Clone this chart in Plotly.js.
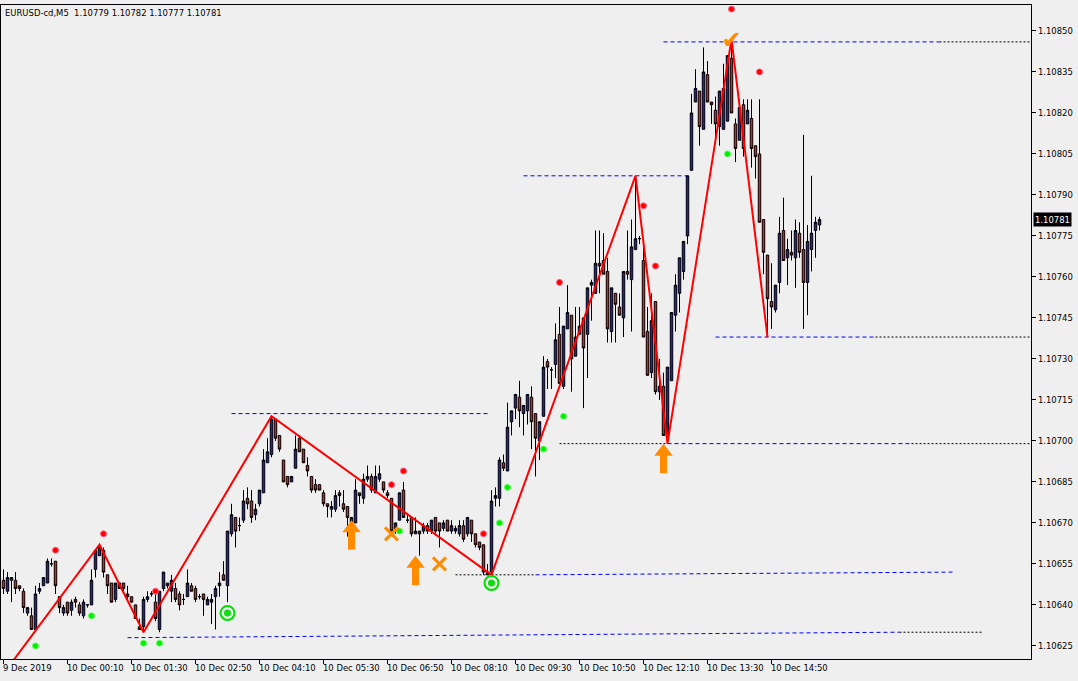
<!DOCTYPE html>
<html><head><meta charset="utf-8">
<script src="https://cdn.plot.ly/plotly-3.0.1.min.js"></script>
<style>html,body{margin:0;padding:0;background:#efefef;}#chart{width:1078px;height:681px;}</style>
</head><body><div id="chart"></div>
<script>
// ---- data (EURUSD-cd M5) ----
const symbolTitle = "EURUSD-cd,M5\u00a0\u00a01.10779 1.10782 1.10777 1.10781";
const lastPrice = 1.10781;
const xLabelBars = [0,16,32,48,64,80,96,112,128,144,160,176,192];
const xLabels = ["9 Dec 2019","10 Dec 00:10","10 Dec 01:30","10 Dec 02:50","10 Dec 04:10","10 Dec 05:30","10 Dec 06:50","10 Dec 08:10","10 Dec 09:30","10 Dec 10:50","10 Dec 12:10","10 Dec 13:30","10 Dec 14:50"];
const yTickVals = [1.10625,1.10640,1.10655,1.10670,1.10685,1.10700,1.10715,1.10730,1.10745,1.10760,1.10775,1.10790,1.10805,1.10820,1.10835,1.10850];

const barOpen = [1.10649,1.10645,1.10649,1.10649,1.10647,1.10645,1.10637,1.10636,1.10631,1.10645,
1.10647,1.10648,1.10655,1.10656,1.10643,1.10637,1.10641,1.10638,1.10642,1.10640,
1.10636,1.10640,1.10640,1.10653,1.10658,1.10660,1.10651,1.10648,1.10642,1.10648,
1.10648,1.10644,1.10643,1.10640,1.10632,1.10632,1.10642,1.10644,1.10641,1.10631,
1.10646,1.10648,1.10645,1.10646,1.10644,1.10642,1.10643,1.10647,1.10646,1.10643,
1.10644,1.10640,1.10641,1.10643,1.10647,1.10651,1.10647,1.10666,1.10672,1.10669,
1.10671,1.10679,1.10678,1.10673,1.10677,1.10681,1.10692,1.10695,1.10708,1.10702,
1.10693,1.10687,1.10685,1.10690,1.10701,1.10697,1.10691,1.10687,1.10684,1.10684,
1.10681,1.10677,1.10675,1.10675,1.10681,1.10677,1.10676,1.10670,1.10670,1.10681,
1.10679,1.10686,1.10687,1.10681,1.10686,1.10685,1.10681,1.10679,1.10667,1.10671,
1.10682,1.10671,1.10672,1.10666,1.10667,1.10667,1.10669,1.10667,1.10672,1.10670,
1.10668,1.10671,1.10667,1.10667,1.10666,1.10669,1.10666,1.10671,1.10666,1.10663,
1.10662,1.10652,1.10652,1.10679,1.10679,1.10692,1.10689,1.10707,1.10712,1.10716,
1.10710,1.10711,1.10716,1.10710,1.10700,1.10709,1.10729,1.10726,1.10728,1.10739,
1.10720,1.10741,1.10746,1.10731,1.10739,1.10745,1.10739,1.10757,1.10754,1.10765,
1.10766,1.10762,1.10740,1.10754,1.10749,1.10745,1.10762,1.10759,1.10770,1.10774,
1.10766,1.10740,1.10725,1.10751,1.10718,1.10720,1.10702,1.10722,1.10746,1.10754,
1.10762,1.10775,1.10799,1.10824,1.10828,1.10814,1.10834,1.10824,1.10821,1.10815,
1.10814,1.10817,1.10840,1.10816,1.10810,1.10823,1.10816,1.10818,1.10808,1.10805,
1.10781,1.10768,1.10751,1.10748,1.10758,1.10777,1.10767,1.10769,1.10767,1.10776,
1.10770,1.10758,1.10770,1.10777,1.10779];

const barHigh = [1.10653,1.10652,1.10650,1.10652,1.10647,1.10646,1.10639,1.10639,1.10647,1.10648,
1.10650,1.10657,1.10657,1.10656,1.10643,1.10640,1.10641,1.10642,1.10643,1.10641,
1.10642,1.10640,1.10653,1.10660,1.10662,1.10661,1.10651,1.10648,1.10648,1.10648,
1.10648,1.10647,1.10643,1.10640,1.10635,1.10643,1.10645,1.10645,1.10645,1.10645,
1.10652,1.10648,1.10651,1.10648,1.10645,1.10644,1.10653,1.10648,1.10647,1.10644,
1.10644,1.10643,1.10644,1.10647,1.10652,1.10656,1.10667,1.10677,1.10672,1.10672,
1.10682,1.10683,1.10682,1.10677,1.10682,1.10697,1.10701,1.10709,1.10708,1.10702,
1.10693,1.10687,1.10687,1.10702,1.10702,1.10697,1.10694,1.10687,1.10686,1.10684,
1.10682,1.10677,1.10678,1.10682,1.10682,1.10682,1.10676,1.10672,1.10686,1.10681,
1.10688,1.10691,1.10688,1.10691,1.10691,1.10685,1.10682,1.10679,1.10670,1.10681,
1.10685,1.10673,1.10672,1.10672,1.10667,1.10670,1.10670,1.10671,1.10672,1.10670,
1.10671,1.10671,1.10671,1.10669,1.10671,1.10671,1.10672,1.10671,1.10666,1.10663,
1.10662,1.10655,1.10682,1.10683,1.10694,1.10695,1.10714,1.10711,1.10717,1.10722,
1.10713,1.10717,1.10720,1.10710,1.10707,1.10731,1.10730,1.10727,1.10743,1.10749,
1.10742,1.10757,1.10746,1.10749,1.10749,1.10745,1.10756,1.10759,1.10777,1.10777,
1.10776,1.10767,1.10756,1.10754,1.10754,1.10762,1.10777,1.10781,1.10797,1.10775,
1.10771,1.10749,1.10754,1.10751,1.10730,1.10725,1.10727,1.10747,1.10761,1.10767,
1.10773,1.10797,1.10827,1.10836,1.10828,1.10844,1.10839,1.10824,1.10826,1.10828,
1.10838,1.10841,1.10846,1.10818,1.10825,1.10825,1.10825,1.10825,1.10808,1.10825,
1.10781,1.10768,1.10765,1.10757,1.10782,1.10789,1.10774,1.10777,1.10781,1.10780,
1.10812,1.10779,1.10797,1.10782,1.10782];

const barLow = [1.10644,1.10644,1.10641,1.10644,1.10645,1.10637,1.10636,1.10631,1.10630,1.10644,
1.10647,1.10648,1.10654,1.10644,1.10637,1.10636,1.10636,1.10636,1.10639,1.10636,
1.10635,1.10639,1.10640,1.10650,1.10658,1.10650,1.10644,1.10641,1.10641,1.10646,
1.10644,1.10642,1.10641,1.10635,1.10631,1.10630,1.10641,1.10643,1.10634,1.10630,
1.10645,1.10646,1.10641,1.10641,1.10638,1.10640,1.10643,1.10645,1.10641,1.10642,
1.10636,1.10640,1.10633,1.10631,1.10643,1.10649,1.10641,1.10665,1.10661,1.10667,
1.10670,1.10675,1.10670,1.10671,1.10676,1.10681,1.10692,1.10694,1.10700,1.10696,
1.10685,1.10683,1.10685,1.10690,1.10696,1.10692,1.10687,1.10681,1.10681,1.10682,
1.10676,1.10672,1.10672,1.10674,1.10676,1.10674,1.10665,1.10670,1.10670,1.10677,
1.10677,1.10685,1.10681,1.10681,1.10685,1.10681,1.10679,1.10667,1.10666,1.10671,
1.10672,1.10670,1.10665,1.10666,1.10658,1.10666,1.10666,1.10666,1.10666,1.10661,
1.10667,1.10667,1.10666,1.10666,1.10665,1.10663,1.10665,1.10663,1.10661,1.10660,
1.10651,1.10651,1.10651,1.10676,1.10676,1.10689,1.10689,1.10702,1.10708,1.10705,
1.10702,1.10706,1.10697,1.10687,1.10693,1.10709,1.10719,1.10719,1.10723,1.10721,
1.10719,1.10741,1.10718,1.10731,1.10739,1.10712,1.10723,1.10744,1.10754,1.10754,
1.10761,1.10736,1.10736,1.10736,1.10746,1.10738,1.10759,1.10740,1.10770,1.10772,
1.10738,1.10724,1.10723,1.10717,1.10715,1.10702,1.10699,1.10722,1.10740,1.10747,
1.10759,1.10772,1.10799,1.10824,1.10808,1.10814,1.10824,1.10816,1.10809,1.10808,
1.10814,1.10817,1.10820,1.10802,1.10810,1.10804,1.10816,1.10800,1.10796,1.10780,
1.10761,1.10738,1.10741,1.10747,1.10754,1.10766,1.10757,1.10766,1.10756,1.10767,
1.10741,1.10746,1.10762,1.10767,1.10777];

const barClose = [1.10646,1.10650,1.10650,1.10646,1.10646,1.10639,1.10639,1.10631,1.10644,1.10646,
1.10650,1.10656,1.10655,1.10647,1.10639,1.10639,1.10637,1.10641,1.10641,1.10637,
1.10641,1.10640,1.10649,1.10660,1.10661,1.10652,1.10647,1.10641,1.10648,1.10646,
1.10646,1.10643,1.10641,1.10635,1.10631,1.10642,1.10643,1.10644,1.10635,1.10645,
1.10652,1.10647,1.10649,1.10642,1.10640,1.10642,1.10648,1.10645,1.10642,1.10643,
1.10642,1.10642,1.10642,1.10646,1.10648,1.10649,1.10667,1.10673,1.10667,1.10669,
1.10678,1.10677,1.10672,1.10675,1.10682,1.10693,1.10696,1.10708,1.10701,1.10697,
1.10685,1.10684,1.10687,1.10697,1.10696,1.10692,1.10689,1.10682,1.10682,1.10682,
1.10677,1.10676,1.10676,1.10680,1.10680,1.10675,1.10672,1.10672,1.10682,1.10680,
1.10686,1.10687,1.10682,1.10687,1.10688,1.10682,1.10680,1.10667,1.10670,1.10681,
1.10672,1.10671,1.10666,1.10667,1.10666,1.10669,1.10667,1.10671,1.10667,1.10667,
1.10670,1.10667,1.10669,1.10668,1.10669,1.10664,1.10672,1.10666,1.10662,1.10661,
1.10652,1.10651,1.10678,1.10680,1.10693,1.10690,1.10705,1.10711,1.10717,1.10711,
1.10713,1.10717,1.10707,1.10701,1.10707,1.10727,1.10727,1.10726,1.10737,1.10721,
1.10742,1.10747,1.10730,1.10738,1.10742,1.10734,1.10756,1.10758,1.10765,1.10764,
1.10761,1.10741,1.10756,1.10750,1.10746,1.10762,1.10761,1.10771,1.10774,1.10774,
1.10738,1.10724,1.10744,1.10718,1.10720,1.10702,1.10727,1.10747,1.10757,1.10767,
1.10773,1.10797,1.10820,1.10829,1.10815,1.10835,1.10824,1.10823,1.10816,1.10828,
1.10829,1.10841,1.10820,1.10807,1.10822,1.10807,1.10821,1.10807,1.10804,1.10780,
1.10769,1.10752,1.10749,1.10757,1.10776,1.10766,1.10770,1.10768,1.10777,1.10769,
1.10758,1.10773,1.10776,1.10780,1.10781];

// ZigZag vertices (bar index, price)
const zzBars  = [-5, 24, 35, 67, 122, 158, 166, 182, 191];
const zzPrice = [1.10605, 1.10662, 1.10630, 1.10709, 1.10651, 1.10797, 1.10699, 1.10847, 1.10738];

// support / resistance levels: blue dashed parts and black dotted parts
const lvlBlueX0 = [165, 130, 178, 57, 166, 133, 31];
const lvlBlueX1 = [234, 171, 218, 121, 227, 238, 224];
const lvlBlueP0 = [1.10846, 1.10797, 1.10738, 1.10710, 1.10699, 1.10651, 1.10628];
const lvlBlueP1 = [1.10846, 1.10797, 1.10738, 1.10710, 1.10699, 1.10652, 1.10630];
const lvlDotX0 = [234, 218, 139, 227, 113, 224];
const lvlDotX1 = [257, 257, 166, 257, 133, 245];
const lvlDotP0 = [1.10846, 1.10738, 1.10699, 1.10699, 1.10651, 1.10630];
const lvlDotP1 = [1.10846, 1.10738, 1.10699, 1.10699, 1.10651, 1.10630];

// signal markers
const redDotBars  = [13, 25, 38, 97, 100, 120, 139, 160, 163, 182, 189];
const redDotPrice = [1.10660, 1.10666, 1.10645, 1.10684, 1.10689, 1.10666, 1.10758, 1.10786, 1.10764, 1.10858, 1.10835];
const greenDotBars  = [8, 22, 35, 39, 99, 124, 126, 135, 140, 181];
const greenDotPrice = [1.10625, 1.10636, 1.10626, 1.10626, 1.10667, 1.10670, 1.10683, 1.10697, 1.10709, 1.10805];
const ringBars  = [56, 122];
const ringPrice = [1.10637, 1.10648];
const upArrowBars = [87, 103, 165];
const upArrowTip  = [1.10671, 1.10658, 1.10699];
const crossBars  = [97, 109];
const crossPrice = [1.10666, 1.10655];
const checkBars  = [182];
const checkPrice = [1.10846];

// ---- drawing ----
const FONT = "Tahoma, 'DejaVu Sans Condensed', 'Liberation Sans', sans-serif";
const W = 1078, H = 681;
const M = {l: 1, r: 47, t: 5, b: 22, pad: 0};
const yRange = [1.106202, 1.108595];
const xRange = [-0.625, 256.875];
const pxPrice = (yRange[1] - yRange[0]) / (H - M.t - M.b);
const barIdx = barOpen.map((_, i) => i);

function segs(x0, x1, p0, p1) {
  const xs = [], ys = [];
  for (let k = 0; k < x0.length; k++) { xs.push(x0[k], x1[k], null); ys.push(p0[k], p1[k], null); }
  return {xs, ys};
}
const blue = segs(lvlBlueX0, lvlBlueX1, lvlBlueP0, lvlBlueP1);
const dots = segs(lvlDotX0, lvlDotX1, lvlDotP0, lvlDotP1);
const ORANGE = '#ff8c00';

const traces = [
  {type: 'scatter', mode: 'lines', x: dots.xs, y: dots.ys, line: {color: '#000000', width: 1, dash: '2px,2px'}, hoverinfo: 'skip', connectgaps: false},
  {type: 'scatter', mode: 'lines', x: blue.xs, y: blue.ys, line: {color: '#0000ff', width: 1, dash: '4px,3px'}, hoverinfo: 'skip', connectgaps: false},
  {type: 'candlestick', x: barIdx, open: barOpen, high: barHigh, low: barLow, close: barClose,
   increasing: {line: {color: '#000000', width: 1}, fillcolor: '#1e1ec8'},
   decreasing: {line: {color: '#000000', width: 1}, fillcolor: '#e01e1e'},
   whiskerwidth: 0, hoverinfo: 'skip'},
  {type: 'scatter', mode: 'lines', x: zzBars, y: zzPrice, line: {color: '#ff0000', width: 2}, hoverinfo: 'skip'},
  {type: 'scatter', mode: 'markers', x: redDotBars, y: redDotPrice, marker: {symbol: 'circle', size: 6, color: '#ff0000', line: {color: '#ff6080', width: 1}}, hoverinfo: 'skip'},
  {type: 'scatter', mode: 'markers', x: greenDotBars, y: greenDotPrice, marker: {symbol: 'circle', size: 6, color: '#00ee00', line: {color: '#60ff60', width: 1}}, hoverinfo: 'skip'},
  {type: 'scatter', mode: 'markers', x: ringBars, y: ringPrice, marker: {symbol: 'circle-open', size: 14, color: '#00dd00', line: {color: '#00dd00', width: 2}}, hoverinfo: 'skip'},
  {type: 'scatter', mode: 'markers', x: ringBars, y: ringPrice, marker: {symbol: 'circle', size: 7, color: '#10dd10'}, hoverinfo: 'skip'},
  // orange up arrows: head + shaft
  {type: 'scatter', mode: 'markers', x: upArrowBars, y: upArrowTip.map(p => p - 8 * pxPrice), marker: {symbol: 'triangle-up', size: 16, color: ORANGE, line: {width: 0}}, hoverinfo: 'skip'},
  {type: 'scatter', mode: 'markers', x: upArrowBars, y: upArrowTip.map(p => p - 19 * pxPrice), marker: {symbol: 'line-ns-open', size: 15, color: ORANGE, line: {color: ORANGE, width: 7}}, hoverinfo: 'skip'},
  {type: 'scatter', mode: 'markers', x: crossBars, y: crossPrice, marker: {symbol: 'x-thin-open', size: 13, color: ORANGE, line: {color: ORANGE, width: 3}}, hoverinfo: 'skip'},
  {type: 'scatter', mode: 'text', x: checkBars, y: checkPrice, text: checkBars.map(() => '\u2714'), textposition: 'middle center', textfont: {family: 'DejaVu Sans', size: 24, color: ORANGE}, hoverinfo: 'skip'}
];

const annotations = xLabelBars.map((b, k) => ({
  x: b, xref: 'x', y: 0, yref: 'paper', yanchor: 'top', xanchor: 'left', xshift: -2, yshift: -2,
  text: xLabels[k], showarrow: false, font: {family: FONT, size: 9.4, color: '#000000'}, borderpad: 0
}));
annotations.push({x: 0, xref: 'paper', xanchor: 'left', xshift: 3, y: 1, yref: 'paper', yanchor: 'top', yshift: -1,
  text: symbolTitle, showarrow: false, font: {family: FONT, size: 9.4, color: '#000000'}, borderpad: 0});
annotations.push({x: 1, xref: 'paper', xanchor: 'left', xshift: 2, y: lastPrice, yref: 'y', yanchor: 'middle',
  text: lastPrice.toFixed(5), showarrow: false, bgcolor: '#000000', font: {family: FONT, size: 9.4, color: '#ffffff'}, borderpad: 1});

const layout = {
  width: W, height: H, margin: M,
  paper_bgcolor: '#efefef', plot_bgcolor: '#efefef',
  showlegend: false, boxgap: 0.12,
  xaxis: {range: xRange, type: 'linear', showgrid: false, zeroline: false, showline: true, mirror: true, linecolor: '#000000', linewidth: 1,
          tickmode: 'array', tickvals: xLabelBars, ticks: 'outside', ticklen: 4, tickcolor: '#000000', showticklabels: false,
          rangeslider: {visible: false}, fixedrange: true},
  yaxis: {range: yRange, side: 'right', showgrid: false, zeroline: false, showline: true, mirror: true, linecolor: '#000000', linewidth: 1,
          tickmode: 'array', tickvals: yTickVals, ticktext: yTickVals.map(v => v.toFixed(5)), ticks: 'outside', ticklen: 4, tickcolor: '#000000',
          tickfont: {family: FONT, size: 9.4, color: '#000000'}, fixedrange: true},
  annotations: annotations
};
Plotly.newPlot('chart', traces, layout, {staticPlot: true, displayModeBar: false});
</script></body></html>
